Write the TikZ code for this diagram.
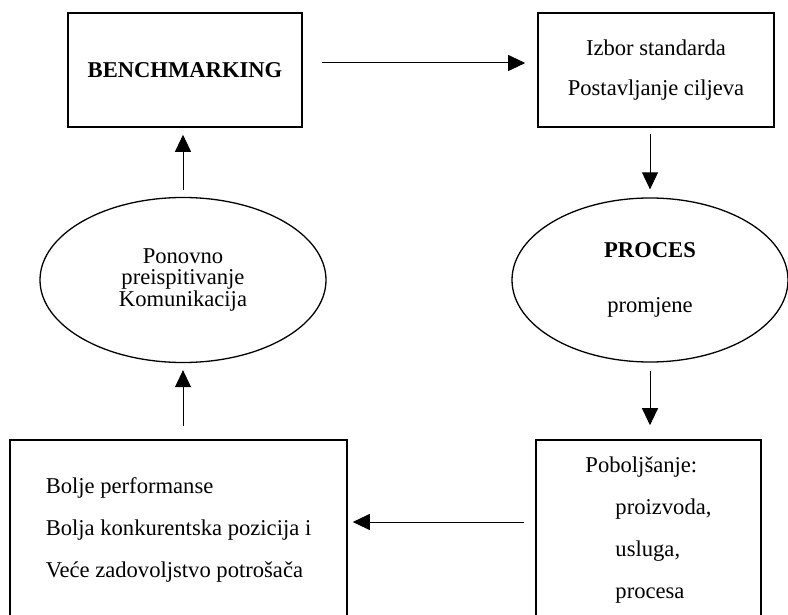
\documentclass[tikz,border=0pt]{standalone}
\usepackage{fontspec}
\setmainfont{Liberation Serif}
\usetikzlibrary{shapes.geometric,arrows.meta}

\begin{document}
\begin{tikzpicture}[x=.5pt, y=-.5pt,
    font=\fontsize{11.3}{21}\selectfont,
    kutija/.style={draw, line width=.8pt, inner sep=0pt},
    elipsa/.style={draw, ellipse, line width=.65pt, inner sep=0pt, align=center},
    strelica/.style={line width=.5pt, -{Triangle[length=8.5pt,width=8pt]}}]
  \useasboundingbox (0,0) rectangle (788,615);
  % gornji red
  \node[kutija, minimum width=117pt, minimum height=57pt] (bench) at (185,70)
    {\textbf{BENCHMARKING}};
  \node[kutija, minimum width=118pt, minimum height=57pt, align=center] (izbor) at (656,70)
    {Izbor standarda\\[-1pt]Postavljanje ciljeva};
  % elipse
  \node[elipsa, minimum width=143pt, minimum height=82.5pt,
    font=\fontsize{11.3}{10.8}\selectfont] (preisp) at (183,280)
    {Ponovno\\preispitivanje\\Komunikacija};
  \node[elipsa, minimum width=138pt, minimum height=82pt] (proces) at (650,280)
    {\textbf{PROCES}\\[6.5pt]promjene};
  % donji red
  \node[kutija, minimum width=168.5pt, minimum height=90pt, align=left] (bolje) at (178.5,530)
    {Bolje performanse\\Bolja konkurentska pozicija i\\Veće zadovoljstvo potrošača};
  \node[kutija, minimum width=112.5pt, minimum height=90pt, align=left] (pobolj) at (648.5,530)
    {Poboljšanje:\\\hspace{15pt}proizvoda,\\\hspace{15pt}usluga,\\\hspace{15pt}procesa};
  % strelice
  \draw[strelica, shorten <=9.5pt, shorten >=6pt]
    ([yshift=3.5pt]bench.east) -- ([yshift=3.5pt]izbor.west);
  \draw[strelica, shorten <=3pt, shorten >=4pt] (proces.north |- izbor.south) -- (proces.north);
  \draw[strelica, shorten <=4pt, shorten >=7pt] (proces.south) -- (proces.south |- pobolj.north);
  \draw[strelica, shorten <=5.5pt, shorten >=2.5pt]
    ([yshift=4pt]pobolj.west) -- ([yshift=4pt]bolje.east);
  \draw[strelica, shorten <=6.5pt, shorten >=3.5pt] (preisp.south |- bolje.north) -- (preisp.south);
  \draw[strelica, shorten <=3.5pt, shorten >=3.5pt] (preisp.north) -- (preisp.north |- bench.south);
\end{tikzpicture}
\end{document}
